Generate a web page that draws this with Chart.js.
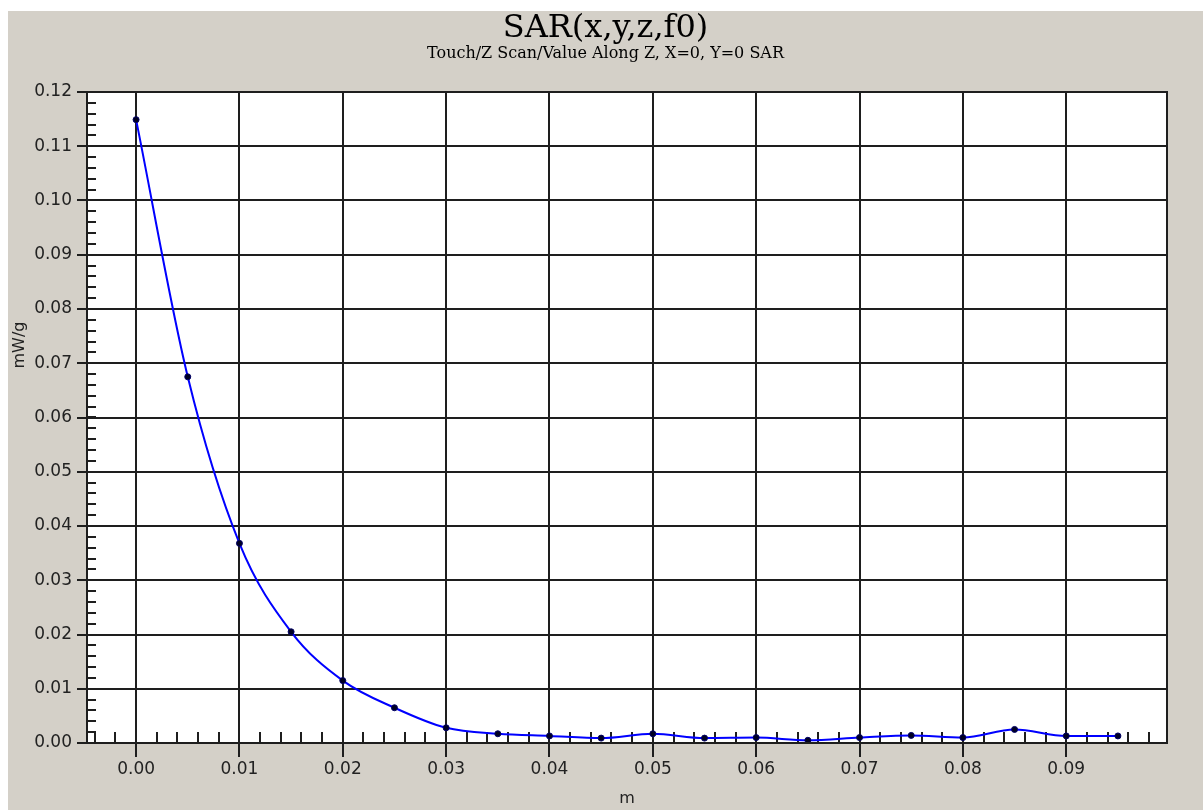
<!DOCTYPE html>
<html>
<head>
<meta charset="utf-8">
<title>SAR(x,y,z,f0)</title>
<script src="https://cdn.jsdelivr.net/npm/chart.js@4.4.1/dist/chart.umd.min.js"></script>
<style>
  html, body { margin: 0; padding: 0; background: #ffffff; }
  #sar-chart { position: absolute; left: 8px; top: 11px; }
</style>
</head>
<body>
<canvas id="sar-chart" width="1195" height="799"></canvas>
<script>
// Datos del barrido Z (x = 0, y = 0)
const zPositions = [0.000, 0.005, 0.010, 0.015, 0.020, 0.025, 0.030, 0.035, 0.040, 0.045,
                    0.050, 0.055, 0.060, 0.065, 0.070, 0.075, 0.080, 0.085, 0.090, 0.095];
const sarValues = [0.1149, 0.0675, 0.0368, 0.0205, 0.0115, 0.0065, 0.0028, 0.0017, 0.0013, 0.0009,
                   0.0017, 0.0009, 0.0010, 0.0005, 0.0010, 0.0014, 0.0010, 0.0025, 0.0013, 0.0013];

// Etiquetas de los ejes
const xTickValues = [0.00, 0.01, 0.02, 0.03, 0.04, 0.05, 0.06, 0.07, 0.08, 0.09];
const yTickValues = [0.00, 0.01, 0.02, 0.03, 0.04, 0.05, 0.06, 0.07, 0.08, 0.09, 0.10, 0.11, 0.12];
const xMinorStep = 0.002;
const yMinorStep = 0.002;

const chartTitle = 'SAR(x,y,z,f0)';
const chartSubtitle = 'Touch/Z Scan/Value Along Z, X=0, Y=0 SAR';
const xAxisTitle = 'm';
const yAxisTitle = 'mW/g';

const GRID_COLOR = '#1e1e1e';
const BG_COLOR = '#d4d0c8';

// Fondo gris, area blanca, marcas menores, marco y titulo del eje Y
const framePlugin = {
    id: 'framePlugin',
    beforeDraw(chart) {
        const { ctx, chartArea: a } = chart;
        ctx.save();
        ctx.fillStyle = BG_COLOR;
        ctx.fillRect(0, 0, chart.width, chart.height);
        ctx.fillStyle = '#ffffff';
        ctx.fillRect(a.left, a.top, a.right - a.left, a.bottom - a.top);
        ctx.restore();
    },
    beforeDatasetsDraw(chart) {
        const { ctx, chartArea: a, scales } = chart;
        ctx.save();
        ctx.strokeStyle = GRID_COLOR;
        ctx.lineWidth = 2;
        ctx.beginPath();
        // marcas menores en X (hacia arriba desde el borde inferior)
        const xs = scales.x;
        for (let v = Math.ceil(xs.min / xMinorStep) * xMinorStep; v <= xs.max; v += xMinorStep) {
            const px = Math.round(xs.getPixelForValue(v));
            ctx.moveTo(px, a.bottom);
            ctx.lineTo(px, a.bottom - 11);
        }
        // marcas menores en Y (hacia la derecha desde el borde izquierdo)
        const ys = scales.y;
        for (let v = 0; v <= ys.max + 1e-9; v += yMinorStep) {
            const py = Math.round(ys.getPixelForValue(v));
            ctx.moveTo(a.left, py);
            ctx.lineTo(a.left + 9, py);
        }
        ctx.stroke();
        ctx.restore();
    },
    afterDatasetsDraw(chart) {
        const { ctx, chartArea: a } = chart;
        ctx.save();
        ctx.strokeStyle = GRID_COLOR;
        ctx.lineWidth = 2;
        ctx.strokeRect(a.left, a.top, a.right - a.left, a.bottom - a.top);
        // titulo del eje Y
        ctx.fillStyle = '#222222';
        ctx.font = '16px "DejaVu Sans"';
        ctx.textAlign = 'center';
        ctx.textBaseline = 'middle';
        ctx.translate(12, 334);
        ctx.rotate(-Math.PI / 2);
        ctx.fillText(yAxisTitle, 0, 0);
        ctx.restore();
    }
};

const ctx = document.getElementById('sar-chart').getContext('2d');

const sarChart = new Chart(ctx, {
    type: 'line',
    data: {
        labels: zPositions,
        datasets: [{
            label: 'SAR',
            data: zPositions.map((z, i) => ({ x: z, y: sarValues[i] })),
            borderColor: '#0000ff',
            borderWidth: 2,
            cubicInterpolationMode: 'monotone',
            pointRadius: 3,
            pointBackgroundColor: '#000022',
            pointBorderColor: '#000066',
            pointBorderWidth: 1,
            fill: false,
        }]
    },
    options: {
        responsive: false,
        animation: false,
        devicePixelRatio: 1,
        layout: { padding: 0 },
        plugins: {
            legend: { display: false },
            tooltip: { enabled: false },
            title: {
                display: true,
                text: chartTitle,
                color: '#000000',
                font: { family: '"DejaVu Serif"', size: 32, weight: 'normal', lineHeight: 1.0 },
                padding: { top: 2, bottom: 0 }
            },
            subtitle: {
                display: true,
                text: chartSubtitle,
                color: '#000000',
                font: { family: '"DejaVu Serif"', size: 16, weight: 'normal', lineHeight: 1.0 },
                padding: { top: 1, bottom: 30 }
            }
        },
        scales: {
            x: {
                type: 'linear',
                min: -0.00475,
                max: 0.09975,
                afterFit: (scale) => { scale.height = 67; },
                afterBuildTicks: (scale) => { scale.ticks = xTickValues.map(v => ({ value: v })); },
                border: { display: false },
                grid: {
                    color: GRID_COLOR,
                    lineWidth: 2,
                    drawTicks: true,
                    tickLength: 14,
                    tickColor: GRID_COLOR,
                    tickWidth: 2
                },
                ticks: {
                    autoSkip: false,
                    maxRotation: 0,
                    padding: 2,
                    color: '#222222',
                    font: { family: '"DejaVu Sans"', size: 17 },
                    callback: (v) => Number(v).toFixed(2)
                },
                title: {
                    display: true,
                    text: xAxisTitle,
                    color: '#222222',
                    font: { family: '"DejaVu Sans"', size: 16 },
                    padding: { top: 0, bottom: 1.4 }
                }
            },
            y: {
                type: 'linear',
                min: 0,
                max: 0.12,
                afterFit: (scale) => { scale.width = 79; },
                afterBuildTicks: (scale) => { scale.ticks = yTickValues.map(v => ({ value: v })); },
                border: { display: false },
                grid: {
                    color: GRID_COLOR,
                    lineWidth: 2,
                    drawTicks: true,
                    tickLength: 10,
                    tickColor: GRID_COLOR,
                    tickWidth: 2
                },
                ticks: {
                    autoSkip: false,
                    padding: 5,
                    color: '#222222',
                    font: { family: '"DejaVu Sans"', size: 17 },
                    callback: (v) => Number(v).toFixed(2)
                }
            },
            // margen derecho (sin marcas), deja el titulo centrado en el lienzo
            yRight: {
                type: 'linear',
                position: 'right',
                min: 0,
                max: 0.12,
                afterFit: (scale) => { scale.width = 36; },
                border: { display: false },
                grid: { display: false, drawTicks: false },
                ticks: { display: false }
            }
        }
    },
    plugins: [framePlugin]
});
</script>
</body>
</html>
